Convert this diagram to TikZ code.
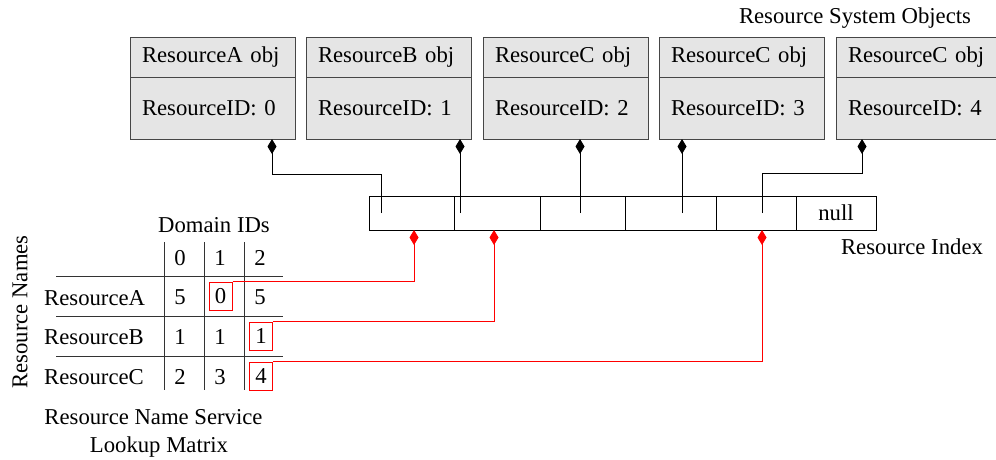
\documentclass[tikz,border=0pt]{standalone}
\usepackage{fontspec}
\setmainfont{Liberation Serif}
\usetikzlibrary{arrows.meta}
\definecolor{boxfill}{RGB}{229,229,229}
\definecolor{boxline}{RGB}{70,70,70}
\begin{document}
\begin{tikzpicture}[x=1pt,y=-1pt,
  font=\fontsize{22.7}{27}\selectfont,
  objhead/.style={draw=boxline, fill=boxfill, line width=1pt, minimum width=165pt,
    minimum height=40pt, text width=141pt, align=left, inner xsep=12pt, inner ysep=0pt,
    outer sep=0pt, anchor=north west},
  objbody/.style={objhead, minimum height=62pt},
  cell/.style={draw=black, line width=1pt, minimum height=34pt, inner sep=0pt, outer sep=0pt, anchor=north west},
  entry/.style={minimum width=23pt, minimum height=28pt, inner sep=0pt},
  pick/.style={entry, draw=red, line width=1pt},
  lbl/.style={inner sep=0pt},
  ptr/.style={draw=black, line width=1pt, -{Diamond[length=15pt,width=9pt]}},
  rptr/.style={draw=red, line width=1pt, -{Diamond[length=15pt,width=9pt]}},
  rule/.style={draw=black!80, line width=1pt}]
\clip (0,0) rectangle (996,459);

% Resource system objects
\node[lbl] (rso) at (855,18) {Resource System Objects};
\node[objhead] (h0) at (130,37) {ResourceA obj};
\node[objbody] (o0) at (130,77) {ResourceID: 0};
\node[objhead] (h1) at (306,37) {ResourceB obj};
\node[objbody] (o1) at (306,77) {ResourceID: 1};
\node[objhead] (h2) at (483,37) {ResourceC obj};
\node[objbody] (o2) at (483,77) {ResourceID: 2};
\node[objhead] (h3) at (659,37) {ResourceC obj};
\node[objbody] (o3) at (659,77) {ResourceID: 3};
\node[objhead] (h4) at (836,37) {ResourceC obj};
\node[objbody] (o4) at (836,77) {ResourceID: 4};

% Resource index
\node[cell, minimum width=85pt] (c0) at (369,196) {};
\node[cell, minimum width=86pt] (c1) at (454,196) {};
\node[cell, minimum width=85pt] (c2) at (540,196) {};
\node[cell, minimum width=91pt] (c3) at (625,196) {};
\node[cell, minimum width=80pt] (c4) at (716,196) {};
\node[cell, minimum width=80pt] (c5) at (796,196) {null};
\node[lbl] (ri) at (912,247) {Resource Index};

\coordinate (p0) at (381,213);
\coordinate (p1) at (460,213);
\coordinate (p2) at (580,213);
\coordinate (p3) at (682,213);
\coordinate (p4) at (762,213);

\draw[ptr] (p0) -- ++(0,-39) -| ([xshift=59.5pt]o0.south);
\draw[ptr] (p1) -- (p1 |- o1.south);
\draw[ptr] (p2) -- (p2 |- o2.south);
\draw[ptr] (p3) -- (p3 |- o3.south);
\draw[ptr] (p4) -- ++(0,-40) -| ([xshift=-56.5pt]o4.south);

% Lookup matrix
\node[lbl] (dom) at (214,225) {Domain IDs};
\node[lbl, rotate=90] (rn) at (20,312) {Resource Names};
\node[entry] (k0) at (180,258) {0};
\node[entry] (k1) at (220,258) {1};
\node[entry] (k2) at (260,258) {2};
\node[lbl, anchor=west] (ra) at (44,298) {ResourceA};
\node[lbl, anchor=west] (rb) at (44,337) {ResourceB};
\node[lbl, anchor=west] (rc) at (44,377) {ResourceC};
\node[entry] (m00) at (180,297) {5};
\node[pick]  (m01) at (220.5,296) {0};
\node[entry] (m02) at (260,297) {5};
\node[entry] (m10) at (180,337) {1};
\node[entry] (m11) at (220,337) {1};
\node[pick]  (m12) at (261,336) {1};
\node[entry] (m20) at (180,377) {2};
\node[entry] (m21) at (220,377) {3};
\node[pick]  (m22) at (261,376) {4};
\draw[rule] (164,242) -- (164,390);
\draw[rule] (204,242) -- (204,390);
\draw[rule] (244,242) -- (244,390);
\draw[rule] (56,276) -- (283,276);
\draw[rule] (56,316) -- (283,316);
\draw[rule] (56,356) -- (283,356);
\node[lbl] (cap1) at (153.5,417) {Resource Name Service};
\node[lbl] (cap2) at (159,447) {Lookup Matrix};

\draw[rptr] (m01.north east) -| ([xshift=2.5pt]c0.south);
\draw[rptr] (m12.north east) -| ([xshift=-3pt]c1.south);
\draw[rptr] (m22.north east) -| (c4.south -| p4);
\end{tikzpicture}
\end{document}
